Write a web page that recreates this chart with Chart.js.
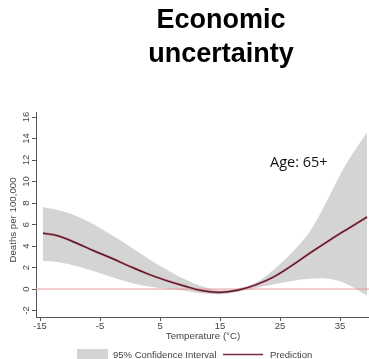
<!DOCTYPE html>
<html>
<head>
<meta charset="utf-8">
<script src="https://cdn.jsdelivr.net/npm/chart.js@4/dist/chart.umd.min.js"></script>
<style>
  html, body { margin: 0; padding: 0; background: #ffffff; }
  #wrap { width: 369px; height: 359px; }
</style>
</head>
<body>
<div id="wrap"><canvas id="chart" width="369" height="359"></canvas></div>
<script>
// Temperature grid (°C) and modelled excess deaths per 100,000
const temps      = [-14.5, -12, -9, -6, -3, 0, 3, 6, 9, 12, 15, 18, 21, 24, 27, 30, 33, 36, 39.5];
const prediction = [5.2, 4.95, 4.3, 3.55, 2.85, 2.1, 1.4, 0.8, 0.3, -0.15, -0.3, -0.1, 0.4, 1.15, 2.2, 3.35, 4.45, 5.5, 6.7];
const ciLower    = [2.6, 2.5, 2.15, 1.65, 1.1, 0.62, 0.25, 0.02, -0.15, -0.4, -0.5, -0.25, 0.1, 0.45, 0.75, 0.95, 0.95, 0.5, -0.6];
const ciUpper    = [7.6, 7.35, 6.8, 6.0, 5.0, 3.95, 2.85, 1.85, 0.95, 0.25, -0.1, 0.05, 0.6, 1.85, 3.4, 5.4, 8.4, 11.6, 14.6];

const xTickValues = [-15, -5, 5, 15, 25, 35];
const yTickValues = [-2, 0, 2, 4, 6, 8, 10, 12, 14, 16];

const titleLines  = ['Economic', 'uncertainty'];
const panelLabel  = 'Age: 65+';
const xTitle      = 'Temperature (°C)';
const yTitle      = 'Deaths per 100,000';
const legendBand  = '95% Confidence Interval';
const legendLine  = 'Prediction';

const X_MIN = -15.67, X_MAX = 39.83;
const Y_MIN = -2.6,  Y_MAX = 16.47;

const pts = (ys) => temps.map((t, i) => ({ x: t, y: ys[i] }));

const AXIS = '#555555';
const TEXT = '#444444';
const BAND = '#d4d4d4';
const FONT = '"Liberation Sans", Arial, sans-serif';
const CURVE = { pointRadius: 0, tension: 0.4, fill: false };

// Titles, rotated y labels, axis titles and legend
const decorations = {
  id: 'decorations',
  afterDraw(chart) {
    const ctx = chart.ctx;
    const ys = chart.scales.y;
    ctx.save();

    ctx.fillStyle = '#000';
    ctx.font = 'bold 27px ' + FONT;
    ctx.textAlign = 'center';
    ctx.textBaseline = 'alphabetic';
    ctx.fillText(titleLines[0], 221, 28);
    ctx.fillText(titleLines[1], 221, 62);

    ctx.font = '14.5px "Open Sans", sans-serif';
    ctx.textAlign = 'left';
    ctx.fillStyle = '#111';
    ctx.fillText(panelLabel, 270, 167);

    ctx.fillStyle = TEXT;
    ctx.font = '9.5px ' + FONT;
    ctx.textAlign = 'center';
    ctx.textBaseline = 'middle';
    yTickValues.forEach(v => {
      const py = ys.getPixelForValue(v);
      ctx.save();
      ctx.translate(26, py);
      ctx.rotate(-Math.PI / 2);
      ctx.fillText(String(v), 0, 0);
      ctx.restore();
    });

    ctx.font = '9.7px ' + FONT;
    ctx.save();
    ctx.translate(13, 220);
    ctx.rotate(-Math.PI / 2);
    ctx.fillText(yTitle, 0, 0);
    ctx.restore();

    ctx.textBaseline = 'alphabetic';
    ctx.fillText(xTitle, 203, 339);

    // legend
    ctx.fillStyle = BAND;
    ctx.fillRect(77, 349, 31, 10);
    ctx.fillStyle = TEXT;
    ctx.textAlign = 'left';
    ctx.font = '9.5px ' + FONT;
    ctx.fillText(legendBand, 113, 357.5);
    ctx.fillText(legendLine, 270, 357.5);
    ctx.strokeStyle = '#7a2a3a';
    ctx.lineWidth = 1.3;
    ctx.beginPath();
    ctx.moveTo(223, 354.5);
    ctx.lineTo(263, 354.5);
    ctx.stroke();

    ctx.restore();
  }
};

new Chart(document.getElementById('chart'), {
  type: 'line',
  data: {
    datasets: [
      { ...CURVE, data: pts(prediction), borderColor: '#4a1526', borderWidth: 1.2 },
      { ...CURVE, data: pts(prediction), borderColor: '#c97782', borderWidth: 2.3 },
      { data: [{ x: X_MIN, y: 0 }, { x: X_MAX, y: 0 }], borderColor: '#e8959b', borderWidth: 1, pointRadius: 0, fill: false },
      { ...CURVE, data: pts(ciLower), borderColor: 'rgba(0,0,0,0)', borderWidth: 0 },
      { ...CURVE, data: pts(ciUpper), borderColor: 'rgba(0,0,0,0)', borderWidth: 0, fill: '-1', backgroundColor: BAND }
    ]
  },
  options: {
    responsive: false,
    animation: false,
    devicePixelRatio: 1,
    layout: { padding: { top: 112, left: 0, right: 0, bottom: 0 } },
    plugins: { legend: { display: false }, tooltip: { enabled: false }, title: { display: false } },
    scales: {
      x: {
        type: 'linear', min: X_MIN, max: X_MAX,
        afterBuildTicks: s => { s.ticks = xTickValues.map(v => ({ value: v })); },
        afterFit: s => { s.height = 42; },
        grid: { display: true, drawOnChartArea: false, drawTicks: true, tickLength: 4, color: AXIS },
        border: { display: true, color: AXIS, width: 1 },
        ticks: { color: TEXT, font: { family: FONT, size: 9.5 }, padding: 0, maxRotation: 0, autoSkip: false }
      },
      y: {
        type: 'linear', min: Y_MIN, max: Y_MAX,
        afterBuildTicks: s => { s.ticks = yTickValues.map(v => ({ value: v })); },
        afterFit: s => { s.width = 36; },
        grid: { display: true, drawOnChartArea: false, drawTicks: true, tickLength: 4, color: AXIS },
        border: { display: true, color: AXIS, width: 1 },
        ticks: { color: 'rgba(0,0,0,0)', font: { size: 9 }, padding: 0, autoSkip: false }
      }
    }
  },
  plugins: [decorations]
});
</script>
</body>
</html>
